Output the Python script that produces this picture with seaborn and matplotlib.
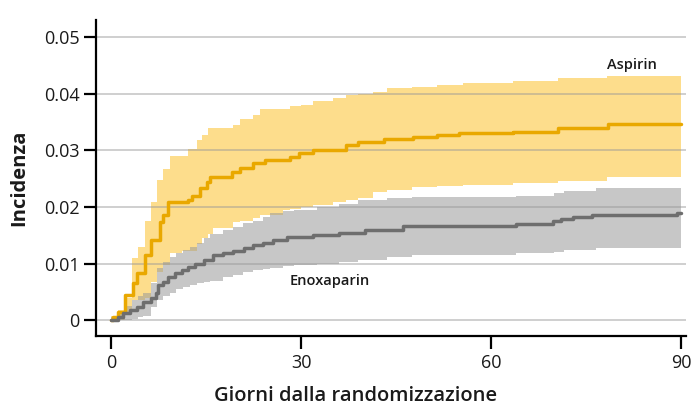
import numpy as np
import pandas as pd
import matplotlib
matplotlib.use("Agg")
import matplotlib.pyplot as plt
import seaborn as sns

# Cumulative incidence (step curves) with confidence bands
asp_days = [0, 0.3, 1.1, 2.2, 3.5, 4.1, 5.4, 6.2, 7.7, 8.2, 9.0, 12.2, 12.8, 14.0,
            15.2, 15.6, 19.1, 20.4, 22.4, 24.3, 28.3, 29.7, 31.9, 37.0, 39.0, 43.0,
            47.7, 51.5, 55.0, 63.5, 70.6, 78.5, 90]
asp_inc = [0, 0.0005, 0.0014, 0.0044, 0.0065, 0.0083, 0.0115, 0.0141, 0.0173, 0.0185,
           0.0208, 0.0212, 0.0220, 0.0233, 0.0244, 0.0252, 0.0261, 0.0268, 0.0277,
           0.0282, 0.0288, 0.0295, 0.0300, 0.0309, 0.0315, 0.0320, 0.0323, 0.0327,
           0.0330, 0.0333, 0.0340, 0.0346, 0.0346]

asp_band_days = [0, 1.1, 2.2, 3.3, 4.2, 5.3, 6.2, 7.2, 8.2, 9.3, 11.2, 12.2, 13.6, 14.4,
                 15.3, 16.1, 19.3, 20.4, 22.4, 23.5, 27.2, 28.3, 29.9, 31.9, 35, 37, 39,
                 41.4, 43.6, 47.5, 51.5, 55.5, 63.5, 70.6, 78.3, 90]
asp_hi = [0.0008, 0.0018, 0.0040, 0.0110, 0.0130, 0.0176, 0.0208, 0.0247, 0.0266, 0.0289,
          0.0290, 0.0303, 0.0318, 0.0327, 0.0340, 0.0340, 0.0345, 0.0355, 0.0363, 0.0372,
          0.0372, 0.0378, 0.0380, 0.0386, 0.0393, 0.0397, 0.0400, 0.0403, 0.0410, 0.0412,
          0.0415, 0.0418, 0.0422, 0.0427, 0.0431, 0.0431]
asp_lo = [0, 0, 0.0012, 0.0035, 0.0035, 0.0040, 0.0067, 0.0085, 0.0097, 0.0118, 0.0123,
          0.0123, 0.0135, 0.0145, 0.0153, 0.0162, 0.0173, 0.0175, 0.0180, 0.0185, 0.0194,
          0.0196, 0.0200, 0.0203, 0.0208, 0.0212, 0.0215, 0.0226, 0.0229, 0.0235, 0.0237,
          0.0238, 0.0242, 0.0245, 0.0253, 0.0253]

eno_days = [0, 0.3, 1.1, 1.9, 3.0, 4.1, 5.0, 6.2, 7.0, 7.4, 8.2, 9.0, 10.1, 11.2, 12.2,
            13.3, 14.6, 16.1, 17.7, 19.3, 20.9, 22.4, 24.0, 25.6, 27.8, 31.9, 36.0, 40.0,
            46.0, 64.0, 69.8, 71.0, 73.0, 76.0, 89.4, 90]
eno_inc = [0, 0, 0.0005, 0.0012, 0.0018, 0.0023, 0.0032, 0.0040, 0.0049, 0.0062, 0.0067,
           0.0076, 0.0083, 0.0088, 0.0094, 0.0100, 0.0106, 0.0115, 0.0118, 0.0122, 0.0127,
           0.0132, 0.0136, 0.0141, 0.0147, 0.0150, 0.0154, 0.0160, 0.0166, 0.0170, 0.0175,
           0.0178, 0.0182, 0.0185, 0.0189, 0.0189]

eno_band_days = [0, 1.1, 2.2, 3.3, 4.2, 5.0, 6.2, 7.2, 8.2, 9.3, 10.3, 11.3, 12.5, 13.5,
                 14.6, 15.6, 17.7, 19.3, 20.8, 22.4, 24.0, 25.0, 27.2, 28.8, 32.5, 36.0,
                 39.0, 43.6, 47.5, 64.0, 70.0, 71.5, 76.5, 90]
eno_hi = [0.0005, 0.0012, 0.0025, 0.0035, 0.0042, 0.0048, 0.0065, 0.0092, 0.0102, 0.0111,
          0.0118, 0.0124, 0.0129, 0.0136, 0.0145, 0.0153, 0.0159, 0.0164, 0.0171, 0.0176,
          0.0182, 0.0189, 0.0192, 0.0194, 0.0200, 0.0205, 0.0212, 0.0215, 0.0217, 0.0220,
          0.0224, 0.0228, 0.0233, 0.0233]
eno_lo = [0, 0, 0, 0.0003, 0.0005, 0.0008, 0.0023, 0.0035, 0.0042, 0.0048, 0.0056, 0.0059,
          0.0062, 0.0065, 0.0068, 0.0070, 0.0076, 0.0080, 0.0085, 0.0088, 0.0091, 0.0093,
          0.0096, 0.0097, 0.0100, 0.0103, 0.0106, 0.0111, 0.0115, 0.0118, 0.0121, 0.0124,
          0.0127, 0.0132]

x_ticks = [0, 30, 60, 90]
y_ticks = [0, 0.01, 0.02, 0.03, 0.04, 0.05]
y_tick_labels = ["0", "0.01", "0.02", "0.03", "0.04", "0.05"]

ASP_LINE = "#E9A800"
ASP_BAND = "#FDDD8C"
ENO_LINE = "#6E6E6E"
ENO_BAND = "#9A9A9A"

sns.set_theme(style="white")
plt.rcParams["font.family"] = ["Open Sans", "DejaVu Sans"]

fig = plt.figure(figsize=(6.91, 4.05), dpi=100)
ax = fig.add_axes([0.139, 0.170, 0.854, 0.781])

# confidence bands
ax.fill_between(asp_band_days, asp_lo, asp_hi, step="post", color=ASP_BAND,
                linewidth=0, zorder=1)
ax.fill_between(eno_band_days, eno_lo, eno_hi, step="post", color=ENO_BAND,
                alpha=0.55, linewidth=0, zorder=1.1)

# step curves
asp_df = pd.DataFrame({"giorni": asp_days, "incidenza": asp_inc})
eno_df = pd.DataFrame({"giorni": eno_days, "incidenza": eno_inc})
sns.lineplot(data=asp_df, x="giorni", y="incidenza", ax=ax, color=ASP_LINE,
             linewidth=2.5, drawstyle="steps-post", sort=False, zorder=3)
sns.lineplot(data=eno_df, x="giorni", y="incidenza", ax=ax, color=ENO_LINE,
             linewidth=2.5, drawstyle="steps-post", sort=False, zorder=3)

ax.set_xlim(-2.4, 90.8)
ax.set_ylim(-0.0028, 0.053)

ax.set_yticks(y_ticks)
ax.set_yticklabels(y_tick_labels)
ax.set_xticks(x_ticks)

ax.yaxis.grid(True, color="#999999", alpha=0.55, linewidth=1.2)
ax.xaxis.grid(False)
ax.set_axisbelow("line")

for side in ["top", "right"]:
    ax.spines[side].set_visible(False)
for side in ["left", "bottom"]:
    ax.spines[side].set_color("black")
    ax.spines[side].set_linewidth(1.6)

ax.tick_params(axis="y", which="major", direction="out", length=9, width=1.6,
               color="black", pad=3, labelsize=13, labelcolor="#1a1a1a", left=True)
ax.tick_params(axis="x", which="major", direction="out", length=9, width=1.6,
               color="black", pad=4, labelsize=13, labelcolor="#1a1a1a", bottom=True)

ax.set_xlabel("Giorni dalla randomizzazione", fontsize=14.5, fontweight="semibold",
              color="#1a1a1a")
ax.xaxis.set_label_coords(0.44, -0.158)
ax.set_ylabel("Incidenza", fontsize=14.5, fontweight="bold", color="#1a1a1a",
              labelpad=10)

ax.text(82.2, 0.0450, "Aspirin", fontsize=10.5, fontweight="semibold",
        color="#1a1a1a", ha="center", va="center")
ax.text(34.5, 0.0069, "Enoxaparin", fontsize=10.5, fontweight="semibold",
        color="#1a1a1a", ha="center", va="center")

fig.savefig("out.png", dpi=100)
